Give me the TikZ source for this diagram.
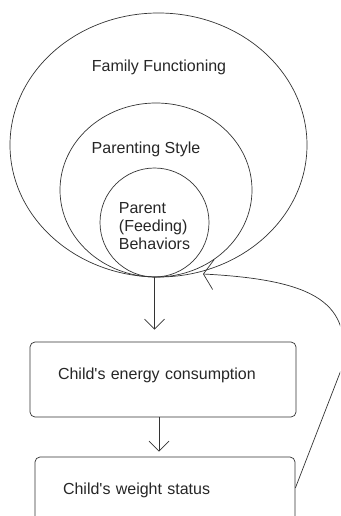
\documentclass[tikz,border=0pt]{standalone}
\usepackage{fontspec}
\setmainfont{Liberation Sans}
\usetikzlibrary{shapes.geometric,arrows.meta}
\definecolor{linegrey}{rgb}{0.2,0.2,0.2}

\begin{document}
\begin{tikzpicture}[x=1pt,y=-1pt,
    font=\fontsize{16pt}{18pt}\selectfont,
    ring/.style={draw=linegrey,ellipse,inner sep=0pt,line width=0.7pt},
    ringtext/.style={text=black!85,inner sep=0pt},
    stage/.style={draw=linegrey,rectangle,rounded corners=5pt,line width=0.7pt,
        minimum height=75pt,inner xsep=28pt,align=left,text=black!85,
        text height=12pt,text depth=12pt},
    flow/.style={-{Straight Barb[length=10pt,width=20pt]},draw=linegrey,line width=0.7pt}]

    % Page is 340 x 516, box at the bottom runs off it.
    \clip (0,0) rectangle (340,516);

    % Ellipses, outside in. All touch at the bottom.
    \node[ring,minimum width=297pt,minimum height=264pt] (family) at (158.5,145) {};
    \node[ring,minimum width=192pt,minimum height=174pt] (style) at (156,190) {};
    \node[ring,minimum width=109pt,minimum height=109pt] (behav) at (154.5,222.5) {};

    \node[ringtext,anchor=base] (familytext) at (159,72) {Family Functioning};
    \node[ringtext,anchor=base] (styletext) at (146,153) {Parenting Style};
    \node[ringtext,align=left] (behavtext) at (154.5,226) {Parent\\(Feeding)\\Behaviors};

    % Boxes
    \node[stage,text width=210pt] (energy) at (163,379.5) {Child\textquotesingle s energy consumption};
    \node[stage,text width=204pt] (weight) at (165,494.5) {Child\textquotesingle s weight status};

    \draw[flow,shorten >=12pt] (behav.south) -- (behav.south |- energy.north);
    \draw[flow,shorten >=5pt] ([xshift=-4pt]energy.south)
        -- ([xshift=-4pt]energy.south |- weight.north);

    % Feedback loop, goes off the right edge.
    \coordinate (back) at (203,274);
    \draw[-{Straight Barb[length=10pt,width=30pt]},draw=linegrey,line width=0.7pt]
        ([yshift=6.5pt]weight.east) -- (343,365)
        .. controls (350,305) and (320,280) .. (back);

\end{tikzpicture}
\end{document}
